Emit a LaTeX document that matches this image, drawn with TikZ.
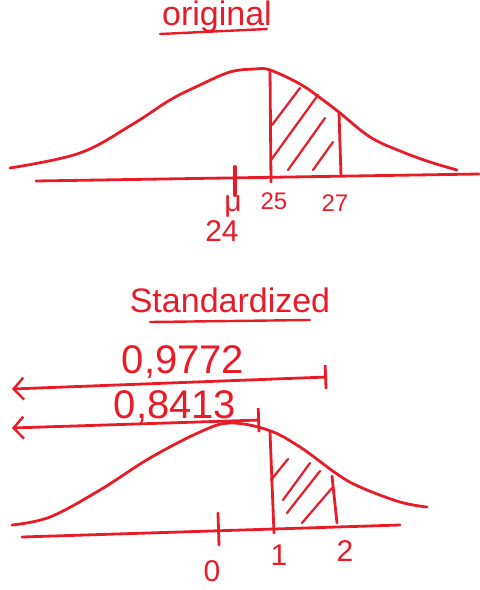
\documentclass[tikz,border=0pt]{standalone}
\usepackage{fontspec}
\setsansfont{Liberation Sans}
\usetikzlibrary{arrows.meta, positioning, calc}
\usepackage{xcolor}
\definecolor{inkRed}{RGB}{232,28,40}
\tikzset{
    font=\sffamily,
    >=Stealth,
    % Ink
    ink/.style={draw=inkRed, line width=1.4pt, line cap=round, line join=round},
    bell/.style={ink},
    hatch/.style={ink, line width=1.1pt},
    underline/.style={ink, line width=1.2pt},
    % Labels
    lbl/.style={text=inkRed, inner sep=1pt, font=\sffamily\fontsize{12}{14}\selectfont},
    bigLbl/.style={text=inkRed, inner sep=1pt, font=\sffamily\fontsize{15}{17}\selectfont},
    heading/.style={text=inkRed, inner sep=1pt, font=\sffamily\fontsize{17}{19}\selectfont},
    prob/.style={text=inkRed, inner sep=1pt, font=\sffamily\fontsize{20}{22}\selectfont},
    % Arrows
    probArrow/.style={ink, {Bar[width=12pt,line width=1.4pt]}-{Straight Barb[length=5pt,width=11pt,line width=1.2pt]}}
}

\begin{document}
\begin{tikzpicture}[x=0.5pt, y=-0.5pt]
\useasboundingbox (0,0) rectangle (479,590);

% --- original ---
\node[heading] (orig) at (217,17) {original};
\draw[underline] (160,34) -- (267,29);

\draw[bell] plot[smooth, tension=0.6] coordinates {(10,168) (80,153) (133,124) (170,100) (200,85) (230,72) (255,69) (270,70) (300,84) (323,100) (340,113) (370,137) (400,151) (430,162) (457,170)};

\coordinate (axL) at (36,181);
\coordinate (axR) at (479,174);
\draw[ink] (axL) -- (axR);

\draw[ink, line width=2pt] (235,167) -- (235,195);
\draw[ink] (270,70) -- (271,182);
\draw[ink] (339,113) -- (341,176);

\draw[hatch] (272,125) -- (300,88);
\draw[hatch] (271,160) -- (318,95);
\draw[hatch] (288,170) -- (325,118);
\draw[hatch] (313,170) -- (333,142);

\node[lbl, font=\sffamily\fontsize{15}{17}\selectfont] (mu) at (233,206) {μ};
\node[bigLbl] (mean) at (222,231) {24};
\node[lbl] (lo) at (274,201) {25};
\node[lbl] (hi) at (335,203) {27};

% --- standardized ---
\node[heading] (std) at (230,300) {Standardized};
\draw[underline] (150,322) -- (310,320);

\node[prob] (pA) at (183,362) {0,9772};
\coordinate (barA) at (327,377);
\coordinate (tipA) at (12,389);
\draw[probArrow] (barA) -- (tipA);

\node[prob] (pB) at (175,407) {0,8413};
\coordinate (barB) at (260,420);
\coordinate (tipB) at (12,428);
\draw[probArrow] (barB) -- (tipB);

\draw[bell] plot[smooth, tension=0.6] coordinates {(12,525) (50,517) (100,490) (150,458) (200,432) (230,423) (268,430) (300,447) (337,474) (360,487) (400,502) (427,507)};

\coordinate (bxL) at (22,537);
\coordinate (bxR) at (400,525);
\draw[ink] (bxL) -- (bxR);

\draw[ink] (218,513) -- (219,545);
\draw[ink] (270,432) -- (274,533);
\draw[ink] (332,476) -- (337,523);

\draw[hatch] (271,480) -- (288,459);
\draw[hatch] (283,500) -- (310,463);
\draw[hatch] (287,513) -- (320,471);
\draw[hatch] (302,523) -- (332,488);

\node[bigLbl] (zero) at (212,571) {0};
\node[bigLbl] (one) at (279,555) {1};
\node[bigLbl] (two) at (345,551) {2};

\end{tikzpicture}
\end{document}
